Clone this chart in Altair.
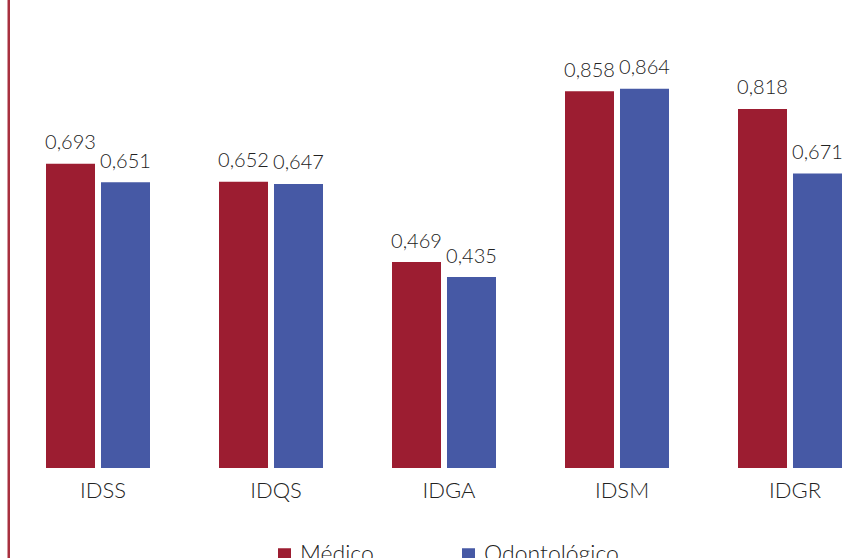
import altair as alt
import pandas as pd

# Index values per dimension, for the two plan types
categories = ["IDSS", "IDQS", "IDGA", "IDSM", "IDGR"]
medico = [0.693, 0.652, 0.469, 0.858, 0.818]
odonto = [0.651, 0.647, 0.435, 0.864, 0.671]
series = ["Médico", "Odontológico"]
colors = ["#9C1D31", "#4659A5"]

rows = []
for i, cat in enumerate(categories):
    rows.append({"cat": cat, "serie": series[0], "valor": medico[i]})
    rows.append({"cat": cat, "serie": series[1], "valor": odonto[i]})
df = pd.DataFrame(rows)
df["rotulo"] = df["valor"].map(lambda v: f"{v:.3f}".replace(".", ","))

FONT = "Lato"
WEIGHT = 300
TXT = "#222222"

x = alt.X(
    "cat:N",
    sort=categories,
    title=None,
    scale=alt.Scale(range=[11.5, 876.5], paddingInner=0, paddingOuter=0),
    axis=alt.Axis(
        labelAngle=0, ticks=False, domain=False, grid=False,
        labelPadding=12, labelOffset=5,
        labelFontSize=22, labelFont=FONT, labelFontWeight=WEIGHT, labelColor=TXT,
    ),
)
xo = alt.XOffset(
    "serie:N",
    sort=series,
    scale=alt.Scale(range=[34.5, 138.5], paddingInner=0.109, paddingOuter=0),
)
y = alt.Y("valor:Q", scale=alt.Scale(domain=[0, 1]), axis=None)

bars = alt.Chart(df).mark_bar().encode(
    x=x,
    xOffset=xo,
    y=y,
    color=alt.Color(
        "serie:N",
        sort=series,
        scale=alt.Scale(domain=series, range=colors),
        legend=alt.Legend(
            title=None, orient="none", direction="horizontal",
            legendX=273, legendY=514, padding=0,
            symbolType="square", symbolSize=169, symbolStrokeWidth=0,
            labelFontSize=23, labelFont=FONT, labelFontWeight=WEIGHT,
            labelColor=TXT, labelOffset=4, columnPadding=83,
        ),
    ),
)

labels = alt.Chart(df).mark_text(
    baseline="alphabetic", dy=-14.5, fontSize=20, font=FONT,
    fontWeight=WEIGHT, color=TXT,
).encode(x=x, xOffset=xo, y=y, text="rotulo:N")

edge = alt.Chart(pd.DataFrame({"v": [0]})).mark_rule(
    color="#A8303F", strokeWidth=2.5
).encode(x=alt.value(8.75), y=alt.value(-29), y2=alt.value(529))

chart = (
    alt.layer(edge, bars, labels)
    .properties(
        width=853, height=439,
        padding={"left": 0, "right": 0, "top": 29, "bottom": 90},
        autosize=alt.AutoSizeParams(type="none"),
        background="white",
    )
    .configure_view(strokeWidth=0, stroke="transparent")
)

chart.save("out.html", embed_options={"renderer": "svg", "actions": False})
